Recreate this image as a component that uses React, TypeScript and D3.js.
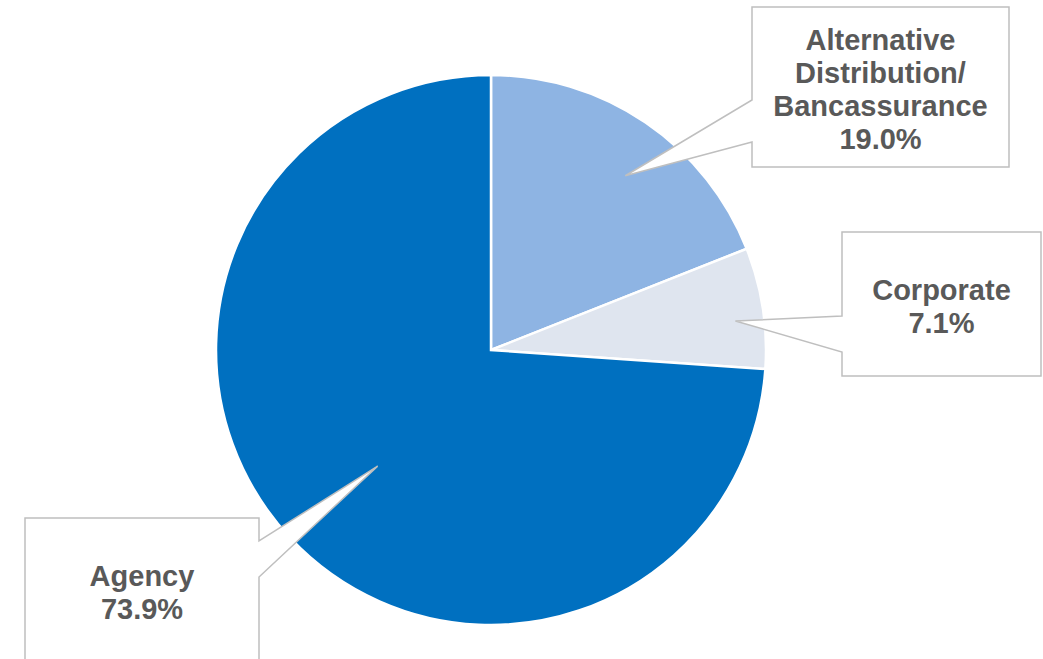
import React from "react";
import * as d3 from "d3";

const categories = ["Alternative Distribution/ Bancassurance", "Corporate", "Agency"];
const labelLines = [["Alternative", "Distribution/", "Bancassurance"], ["Corporate"], ["Agency"]];
const values = [19.0, 7.1, 73.9];
const valueLabels = ["19.0%", "7.1%", "73.9%"];
const colors = ["#8EB4E3", "#DFE5EF", "#0070C0"];

const W = 1043;
const H = 659;
const cx = 491;
const cy = 350;
const R = 275;

type Callout = {
  x: number; y: number; w: number; h: number;
  side: "left" | "right"; p1: number; p2: number;
  tipT: number; tipR: number; textY: number;
};

const callouts: Callout[] = [
  { x: 752, y: 7, w: 257, h: 160, side: "left", p1: 100, p2: 142, tipT: 0.55, tipR: 0.8, textY: 50 },
  { x: 842, y: 232, w: 199, h: 144, side: "left", p1: 316, p2: 352, tipT: 0.58, tipR: 0.895, textY: 300 },
  { x: 25, y: 518, w: 234, h: 170, side: "right", p1: 541, p2: 577, tipT: 0.49, tipR: 0.59, textY: 586 },
];

export default function App() {
  const pie = d3.pie<number>().sort(null).value((d) => d)(values);
  const arc = d3.arc<d3.PieArcDatum<number>>().innerRadius(0).outerRadius(R);
  const lh = 33;
  return (
    <svg width={W} height={H} style={{ position: "absolute", left: 0, top: 0, background: "#fff" }}>
      <g transform={`translate(${cx},${cy})`}>
        {pie.map((p, i) => (
          <path key={i} d={arc(p) || ""} fill={colors[i]} stroke="#fff" strokeWidth={2.5} />
        ))}
      </g>
      {callouts.map((c, i) => {
        const p = pie[i];
        const a = p.startAngle + c.tipT * (p.endAngle - p.startAngle);
        const tx = cx + Math.sin(a) * R * c.tipR;
        const ty = cy - Math.cos(a) * R * c.tipR;
        let d = "";
        if (c.side === "left") {
          d = `M${c.x},${c.y} L${c.x + c.w},${c.y} L${c.x + c.w},${c.y + c.h} L${c.x},${c.y + c.h} L${c.x},${c.p2} L${tx},${ty} L${c.x},${c.p1} Z`;
        } else {
          d = `M${c.x},${c.y} L${c.x + c.w},${c.y} L${c.x + c.w},${c.p1} L${tx},${ty} L${c.x + c.w},${c.p2} L${c.x + c.w},${c.y + c.h} L${c.x},${c.y + c.h} Z`;
        }
        const lines = [...labelLines[i], valueLabels[i]];
        return (
          <g key={categories[i]}>
            <path d={d} fill="#fff" stroke="#BFBFBF" strokeWidth={1.5} strokeLinejoin="miter" />
            <text
              x={c.x + c.w / 2}
              textAnchor="middle"
              fontFamily="'Liberation Sans', Arial, sans-serif"
              fontWeight="bold"
              fontSize={29}
              fill="#595959"
            >
              {lines.map((l, j) => (
                <tspan key={j} x={c.x + c.w / 2} y={c.textY + j * lh}>{l}</tspan>
              ))}
            </text>
          </g>
        );
      })}
    </svg>
  );
}
